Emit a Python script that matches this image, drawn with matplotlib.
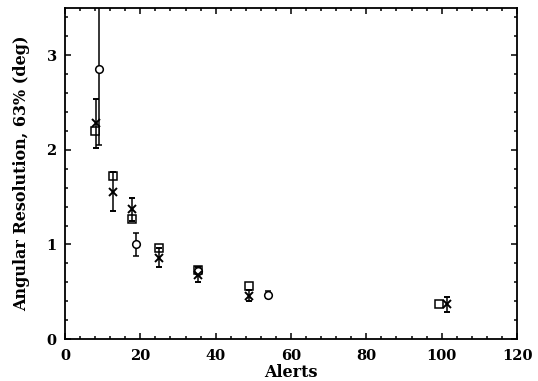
import matplotlib
matplotlib.use('Agg')
import matplotlib.pyplot as plt
from matplotlib.ticker import MultipleLocator

# circles (with error bars)
circ_x = [9.1, 18.8, 35.3, 53.9]
circ_y = [2.85, 1.00, 0.72, 0.47]
circ_err = [0.80, 0.12, 0.03, 0.04]

# squares (no error bars)
sq_x = [7.9, 12.8, 17.8, 24.9, 35.3, 48.8, 99.3]
sq_y = [2.20, 1.72, 1.27, 0.96, 0.73, 0.56, 0.37]

# crosses (with error bars)
x_x = [8.2, 12.8, 17.8, 24.9, 35.3, 48.8, 101.4]
x_y = [2.28, 1.56, 1.37, 0.86, 0.68, 0.46, 0.37]
x_err = [0.26, 0.21, 0.12, 0.10, 0.08, 0.06, 0.08]

plt.rcParams['font.family'] = ['DejaVu Serif']
plt.rcParams['font.weight'] = 'bold'

fig = plt.figure(figsize=(5.38, 3.81), dpi=100)
ax = fig.add_axes([0.1208, 0.110, 0.8402, 0.869])

ax.errorbar(circ_x, circ_y, yerr=circ_err, fmt='o', mfc='white', mec='black',
            ms=5.5, mew=1.1, ecolor='black', elinewidth=1.1, capsize=2, capthick=1.1)
ax.plot(sq_x, sq_y, 's', mfc='white', mec='black', ms=5.3, mew=1.1)
ax.errorbar(x_x, x_y, yerr=x_err, fmt='x', color='black',
            ms=5.5, mew=1.4, ecolor='black', elinewidth=1.1, capsize=2, capthick=1.1)

ax.set_xlim(0, 120)
ax.set_ylim(0, 3.5)
ax.xaxis.set_major_locator(MultipleLocator(20))
ax.xaxis.set_minor_locator(MultipleLocator(4))
ax.yaxis.set_major_locator(MultipleLocator(1))
ax.yaxis.set_minor_locator(MultipleLocator(0.2))
ax.tick_params(which='both', direction='in', top=True, right=True, width=1.1)
ax.tick_params(which='major', length=4, labelsize=10.5)
ax.tick_params(axis='x', which='major', pad=7)
ax.tick_params(axis='y', which='major', pad=6)
ax.tick_params(which='minor', length=2)
for s in ax.spines.values():
    s.set_linewidth(1.3)

ax.set_xlabel('Alerts', fontsize=11.5, fontweight='bold', labelpad=1)
ax.set_ylabel('Angular Resolution, 63% (deg)', fontsize=11.5, fontweight='bold', labelpad=12)

fig.savefig('out.png', dpi=100)
